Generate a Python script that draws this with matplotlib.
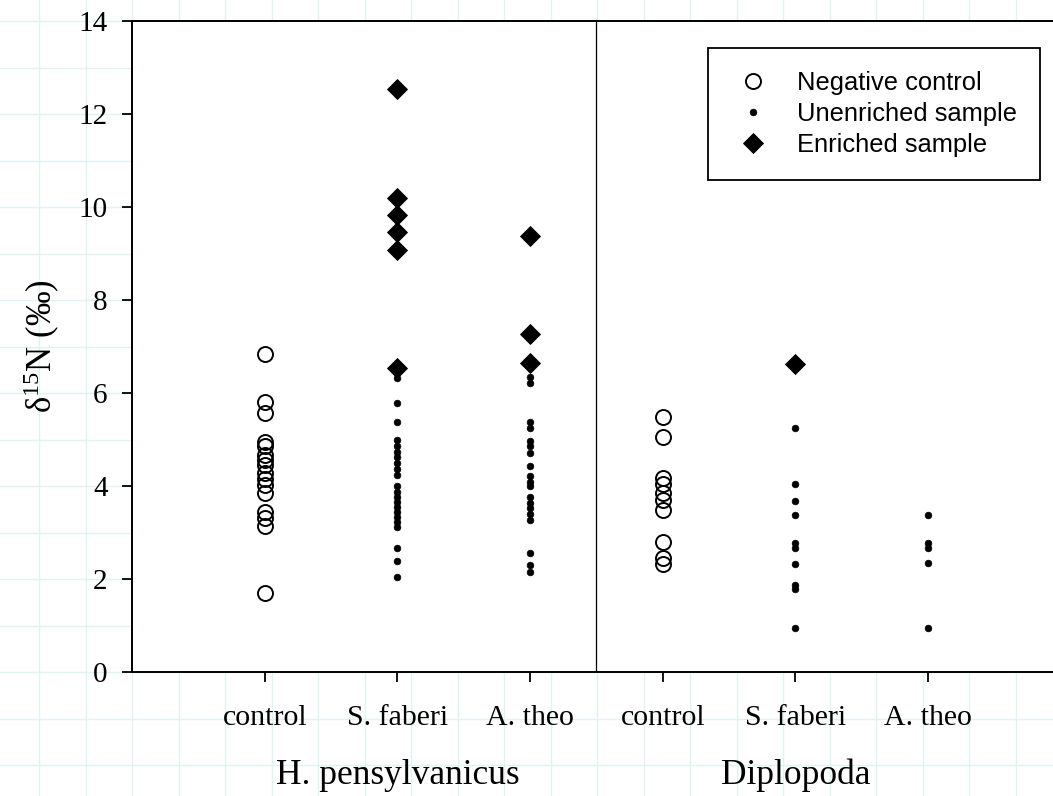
import matplotlib
matplotlib.use("Agg")
import matplotlib.pyplot as plt
import matplotlib.transforms as mtransforms
from matplotlib.lines import Line2D
import numpy as np

# ---- data -------------------------------------------------------------
categories = ["control", "S. faberi", "A. theo", "control", "S. faberi", "A. theo"]
groups = ["H. pensylvanicus", "Diplopoda"]
group_centers = [2, 5]
y_ticks = [0, 2, 4, 6, 8, 10, 12, 14]

# H. pensylvanicus
hp_control = [6.84, 5.80, 5.57, 4.95, 4.85, 4.67, 4.55, 4.45, 4.27, 4.16,
              4.02, 3.86, 3.45, 3.31, 3.15, 1.70]
hp_sfaberi_unenriched = [6.32, 5.79, 5.38, 4.99, 4.86, 4.73, 4.62, 4.49, 4.36,
                         4.24, 4.00, 3.87, 3.76, 3.66, 3.55, 3.44, 3.33, 3.23,
                         3.12, 2.67, 2.39, 2.04]
hp_sfaberi_enriched = [12.54, 10.19, 9.83, 9.46, 9.07, 6.54]
hp_atheo_unenriched = [6.35, 6.21, 5.38, 5.24, 4.97, 4.85, 4.72, 4.43, 4.21,
                       4.09, 3.99, 3.77, 3.64, 3.52, 3.40, 3.27, 2.55, 2.30, 2.16]
hp_atheo_enriched = [9.38, 7.27, 6.65]

# Diplopoda
dp_control = [5.49, 5.05, 4.18, 4.05, 3.85, 3.70, 3.48, 2.80, 2.45, 2.32]
dp_sfaberi_unenriched = [5.24, 4.04, 3.68, 3.38, 2.77, 2.67, 2.32, 1.87, 1.78, 0.94]
dp_sfaberi_enriched = [6.62]
dp_atheo_unenriched = [3.38, 2.78, 2.66, 2.34, 0.94]

# ---- style ------------------------------------------------------------
plt.rcParams["font.family"] = ["Liberation Serif", "DejaVu Serif"]
plt.rcParams["mathtext.fontset"] = "custom"
plt.rcParams["mathtext.rm"] = "Liberation Serif"
plt.rcParams["mathtext.it"] = "Liberation Serif:italic"

W, H = 1053, 796
fig = plt.figure(figsize=(W / 100, H / 100), dpi=100)
fig.patch.set_facecolor("white")

# faint graph-paper background
bg = fig.add_axes([0, 0, 1, 1], zorder=-5)
bg.set_xlim(0, W)
bg.set_ylim(H, 0)
bg.axis("off")
step = 46.5
for xv in np.arange(132 - 3 * step, W + step, step):
    bg.axvline(xv, color="#dff3f1", lw=1.0)
for yv in np.arange(21 - step, H + step, step):
    bg.axhline(yv, color="#dff3f1", lw=1.0)

# main axes (right edge runs past the figure border)
left_px, top_px, bottom_px, unit_px = 132, 21, 672, 132.7
ax = fig.add_axes([left_px / W, 1 - bottom_px / H,
                   7 * unit_px / W, (bottom_px - top_px) / H])
ax.set_facecolor("white")
ax.set_xlim(0, 7)
ax.set_ylim(0, 14)

open_kw = dict(ls="none", marker="o", ms=10.8, mfc="none", mec="black", mew=1.4)
dot_kw = dict(ls="none", marker="o", ms=4.8, mfc="black", mec="black", mew=0.5)
diam_kw = dict(ls="none", marker="D", ms=10, mfc="black", mec="black", mew=0.6)

def column(pos, vals, kw):
    ax.plot([pos] * len(vals), vals, clip_on=False, zorder=3, **kw)

column(1, hp_control, open_kw)
column(2, hp_sfaberi_unenriched, dot_kw)
column(2, hp_sfaberi_enriched, diam_kw)
column(3, hp_atheo_unenriched, dot_kw)
column(3, hp_atheo_enriched, diam_kw)
column(4, dp_control, open_kw)
column(5, dp_sfaberi_unenriched, dot_kw)
column(5, dp_sfaberi_enriched, diam_kw)
column(6, dp_atheo_unenriched, dot_kw)

# divider between the two consumer groups
ax.axvline(3.5, color="black", lw=0.9, zorder=2)

# spines and ticks
for side in ("left", "top", "bottom"):
    ax.spines[side].set_linewidth(1.4)
ax.spines["right"].set_visible(False)

ax.set_yticks(y_ticks)
ax.set_yticklabels([str(v) for v in y_ticks])
ax.set_xticks(range(1, len(categories) + 1))
ax.set_xticklabels(categories)
ax.tick_params(axis="y", direction="out", length=7.5, width=1.3, pad=10,
               labelsize=21)
ax.tick_params(axis="x", direction="out", length=7.5, width=1.3, pad=16,
               labelsize=21.5)

ax.set_ylabel("δ$^{\\mathregular{15}}$N (‰)", fontsize=25, labelpad=12)

# group labels beneath the category labels
trans = mtransforms.blended_transform_factory(ax.transData, fig.transFigure)
for name, xc in zip(groups, group_centers):
    ax.text(xc, 1 - 784 / H, name, transform=trans, ha="center",
            va="baseline", fontsize=25.5)

# legend
handles = [
    Line2D([], [], **open_kw),
    Line2D([], [], **dot_kw),
    Line2D([], [], **diam_kw),
]
labels = ["Negative control", "Unenriched sample", "Enriched sample"]
leg = ax.legend(handles, labels, loc="upper right",
                bbox_to_anchor=(1040 / W, 1 - 48 / H),
                bbox_transform=fig.transFigure, borderaxespad=0,
                prop={"family": "Liberation Sans", "size": 18.4},
                frameon=True, fancybox=False, edgecolor="black",
                framealpha=1, borderpad=0.9, labelspacing=0.28,
                handlelength=1.75, handletextpad=0.85, numpoints=1)
leg.get_frame().set_linewidth(1.3)

fig.savefig("out.png", dpi=100, facecolor="white")
